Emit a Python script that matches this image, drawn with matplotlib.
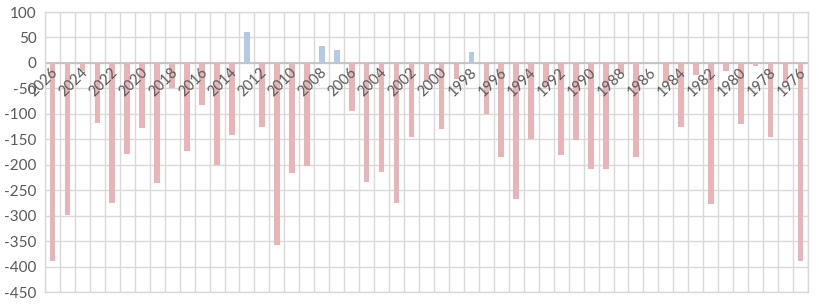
import numpy as np
import matplotlib
matplotlib.use("Agg")
from matplotlib import pyplot as plt

# ---- Daten ----
years = list(range(2026, 1975, -1))
values = [-390, -298, -16, -118, -275, -178, -128, -235, -50, -173,
          -83, -200, -141, 60, -125, -357, -217, -203, 33, 25,
          -94, -233, -214, -275, -145, -37, -130, -31, 21, -100,
          -185, -268, -150, -45, -180, -151, -208, -208, -19, -185,
          0, -39, -125, -24, -277, -15, -120, -6, -146, -40,
          -390]
y_ticks = list(range(-450, 101, 50))

red = "#E8B4B6"
blue = "#B3C9E6"
grid = "#D9D9D9"
txt = "#595959"

plt.rcParams['font.family'] = ['Lato', 'DejaVu Sans']

fig = plt.figure(figsize=(8.2, 3.06), dpi=100)
ax = fig.add_axes([45/820, 1 - 292/306, (808 - 45)/820, (292 - 12)/306])

x = np.arange(len(years))
vals = np.array(values)
colors = [blue if v > 0 else red for v in vals]
ax.bar(x, vals, width=0.38, color=colors, zorder=3)

ax.set_xlim(-0.5, len(years) - 0.5)
ax.set_ylim(-450, 100)
ax.set_yticks(y_ticks)
ax.set_yticklabels([str(t) for t in y_ticks], fontsize=11, color=txt)

# vertikale Gitterlinien zwischen den Kategorien
ax.set_xticks(np.arange(-0.5, len(years)), minor=True)
ax.set_xticks([])
ax.grid(True, which='minor', axis='x', color=grid, lw=1, zorder=0)
ax.grid(True, which='major', axis='y', color=grid, lw=1, zorder=0)
ax.tick_params(which='both', length=0)
ax.tick_params(axis='y', pad=6)
ax.axhline(0, color="#BFBFBF", lw=1.2, zorder=2)

for s in ax.spines.values():
    s.set_color(grid)
    s.set_linewidth(1)

# Jahreszahlen schraeg unter der Nulllinie
for i, yr in enumerate(years):
    if yr % 2 == 0:
        ax.text(i + 0.2, -14, str(yr), rotation=45, rotation_mode='anchor',
                ha='right', va='center', fontsize=10.5, color=txt, zorder=4)

fig.savefig("out.png", dpi=100)
